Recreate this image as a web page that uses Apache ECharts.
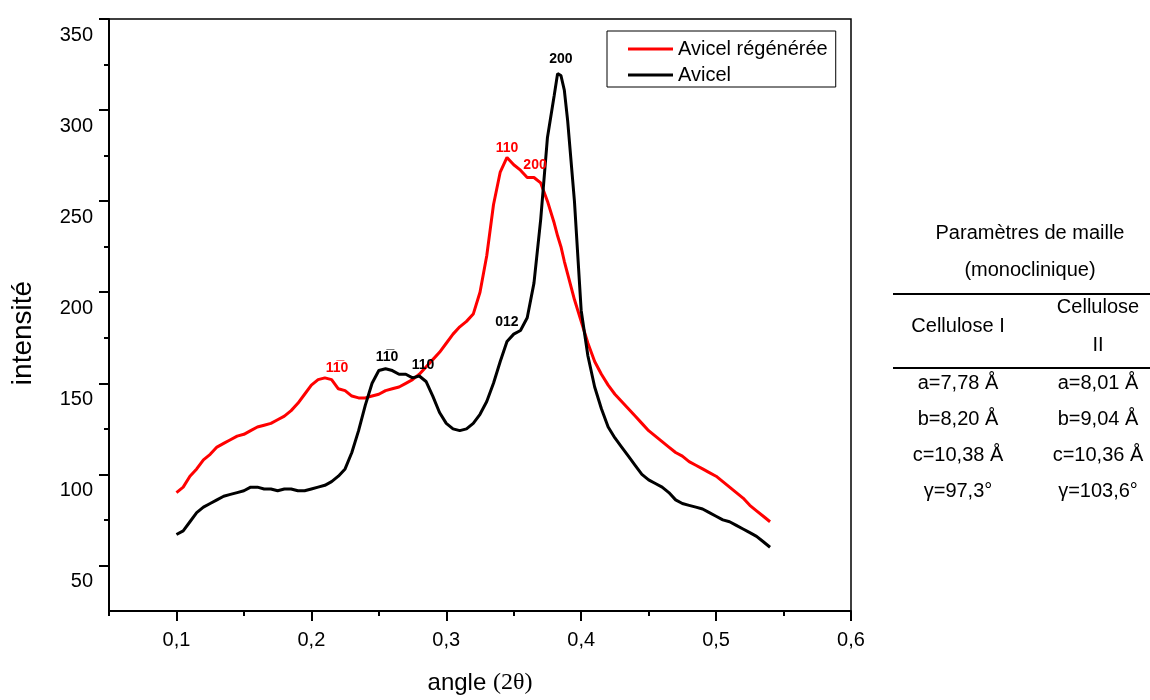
<!DOCTYPE html>
<html><head><meta charset="utf-8">
<script src="https://cdn.jsdelivr.net/npm/echarts@6/dist/echarts.min.js"></script>
<style>html,body{margin:0;padding:0;background:#fff}#c{width:1150px;height:700px}</style>
</head><body><div id="c"></div>
<script>
const angles = [0.100,0.105,0.110,0.115,0.120,0.125,0.130,0.135,0.140,0.145,
  0.150,0.155,0.160,0.165,0.170,0.175,0.180,0.185,0.190,0.195,
  0.200,0.205,0.210,0.215,0.220,0.225,0.230,0.235,0.240,0.245,
  0.250,0.255,0.260,0.265,0.270,0.275,0.280,0.285,0.290,0.295,
  0.300,0.305,0.310,0.315,0.320,0.325,0.330,0.335,0.340,0.345,
  0.350,0.355,0.360,0.365,0.370,0.375,0.380,0.3825,0.385,0.3875,
  0.390,0.395,0.400,0.405,0.410,0.415,0.420,0.425,0.430,0.435,
  0.440,0.445,0.450,0.455,0.460,0.465,0.470,0.475,0.480,0.485,
  0.490,0.495,0.500,0.505,0.510,0.515,0.520,0.525,0.530,0.535,0.540];
const avicelRegeneree = [90,93,99,103,108,111,115,117,119,121,
  122,124,126,127,128,130,132,135,139,144,
  149,152,153,152,147,146,143,142,142,143,
  144,146,147,148,150,152,155,159,163,167,
  172,177,181,184,188,200,220,248,266,274,
  270,267,263,263,260,250,238,231,225,217,
  210,196,184,172,162,155,149,144,140,136,
  132,128,124,121,118,115,112,110,107,105,
  103,101,99,96,93,90,87,83,80,77,74];
const avicel = [67,69,74,79,82,84,86,88,89,90,
  91,93,93,92,92,91,92,92,91,91,
  92,93,94,96,99,103,112,124,138,150,
  157,158,157,155,155,153,154,151,143,134,
  128,125,124,125,128,133,140,150,162,173,
  177,179,186,205,240,285,308,320,319,311,
  294,250,190,165,148,136,126,120,115,110,
  105,100,97,95,93,90,86,84,83,82,
  81,79,77,75,74,72,70,68,66,63,60];
const seriesNames = ['Avicel régénérée', 'Avicel'];
const majorXTicks = [0.1,0.2,0.3,0.4,0.5,0.6];
const minorXTicks = [0.05,0.15,0.25,0.35,0.45,0.55];
const majorYTicks = [50,100,150,200,250,300,350];
const minorYTicks = [75,125,175,225,275,325];
const redPeaks = [['11\u03050',0.219,158.4],['110',0.345,279.2],['200',0.3658,269.9]];
const blackPeaks = [['11\u03050',0.2561,164.5],['110',0.2828,160.1],['012',0.345,183.7],['200',0.385,328]];
const tableTitle = ['Paramètres de maille','(monoclinique)'];
const tableHeader = [['Cellulose I'],['Cellulose','II']];
const tableRows = [['a=7,78 Å','a=8,01 Å'],['b=8,20 Å','b=9,04 Å'],['c=10,38 Å','c=10,36 Å'],['γ=97,3°','γ=103,6°']];

const FONT = 'Liberation Sans';
const TFONT = '20px "Liberation Sans"';
const chart = echarts.init(document.getElementById('c'));
function peakMarks(list, color){
  return {
    symbol:'circle', symbolSize:1, itemStyle:{color:'rgba(0,0,0,0)'},
    label:{show:true, position:'inside', color:color, fontWeight:'bold', fontSize:14, fontFamily:'"Liberation Sans", "DejaVu Sans"',
      formatter:p=>p.name},
    data:list.map(d=>({name:d[0], coord:[d[1],d[2]]}))
  };
}
const xLab = v => v.toFixed(1).replace('.',',');
const graphics = [];
graphics.push({type:'text', rotation:Math.PI/2, x:23, y:333,
  style:{text:'intensité', font:'28px "Liberation Sans"', fill:'#000', textAlign:'center', textVerticalAlign:'middle'}});
tableTitle.forEach((t,i)=>graphics.push({type:'text', x:1030, y:233+i*37,
  style:{text:t, font:TFONT, fill:'#000', textAlign:'center', textVerticalAlign:'middle'}}));
graphics.push({type:'line', shape:{x1:893,y1:294,x2:1150,y2:294}, style:{stroke:'#000', lineWidth:2}});
graphics.push({type:'line', shape:{x1:893,y1:368,x2:1150,y2:368}, style:{stroke:'#000', lineWidth:2}});
graphics.push({type:'text', x:958, y:326, style:{text:tableHeader[0][0], font:TFONT, fill:'#000', textAlign:'center', textVerticalAlign:'middle'}});
tableHeader[1].forEach((t,i)=>graphics.push({type:'text', x:1098, y:307+i*38,
  style:{text:t, font:TFONT, fill:'#000', textAlign:'center', textVerticalAlign:'middle'}}));
tableRows.forEach((r,i)=>{
  [958,1098].forEach((cx,j)=>graphics.push({type:'text', x:cx, y:383+i*36,
    style:{text:r[j], font:TFONT, fill:'#000', textAlign:'center', textVerticalAlign:'middle'}}));
});

const option = {
  animation:false,
  textStyle:{fontFamily:FONT},
  grid:{left:109, right:299, top:19, bottom:89, show:true, borderColor:'#000', borderWidth:1.5, backgroundColor:'transparent'},
  legend:{data:seriesNames, orient:'vertical', left:607, top:31, itemWidth:45, itemHeight:3, itemGap:6,
    icon:'rect', padding:[8,8,2,21], borderColor:'#000', borderWidth:1, borderRadius:0,
    textStyle:{fontSize:20, color:'#000', lineHeight:20, fontFamily:FONT}},
  xAxis:[
    {type:'value', min:0.05, max:0.6, position:'bottom',
     name:'{a|angle }{b|(2θ)}', nameLocation:'middle', nameGap:60,
     nameTextStyle:{rich:{a:{fontSize:24, fontFamily:FONT, color:'#000'}, b:{fontSize:24, fontFamily:'Liberation Serif', color:'#000'}}},
     axisLine:{show:true, onZero:false, lineStyle:{color:'#000', width:2}},
     axisTick:{show:true, customValues:majorXTicks, length:10, lineStyle:{color:'#000', width:2}},
     axisLabel:{customValues:majorXTicks, formatter:xLab, fontSize:20, color:'#000', margin:19},
     splitLine:{show:false}},
    {type:'value', min:0.05, max:0.6, position:'bottom', gridIndex:0,
     axisLine:{show:false}, axisLabel:{show:false}, splitLine:{show:false},
     axisTick:{show:true, customValues:minorXTicks, length:5, lineStyle:{color:'#000', width:2}}}
  ],
  yAxis:[
    {type:'value', min:25, max:350, position:'left',
     axisLine:{show:true, onZero:false, lineStyle:{color:'#000', width:2}},
     axisTick:{show:true, customValues:majorYTicks, length:10, lineStyle:{color:'#000', width:2}},
     axisLabel:{customValues:majorYTicks, fontSize:20, color:'#000', margin:16, verticalAlign:'top', lineHeight:32},
     splitLine:{show:false}},
    {type:'value', min:25, max:350, position:'left', gridIndex:0,
     axisLine:{show:false}, axisLabel:{show:false}, splitLine:{show:false},
     axisTick:{show:true, customValues:minorYTicks, length:5, lineStyle:{color:'#000', width:2}}}
  ],
  series:[
    {name:seriesNames[0], type:'line', symbol:'none', xAxisIndex:0, yAxisIndex:0,
     lineStyle:{color:'#ff0000', width:3}, itemStyle:{color:'#ff0000'},
     data:angles.map((a,i)=>[a, avicelRegeneree[i]]), markPoint:peakMarks(redPeaks,'#ff0000'), z:3},
    {name:seriesNames[1], type:'line', symbol:'none', xAxisIndex:0, yAxisIndex:0,
     lineStyle:{color:'#000', width:3}, itemStyle:{color:'#000'},
     data:angles.map((a,i)=>[a, avicel[i]]), markPoint:peakMarks(blackPeaks,'#000'), z:4}
  ],
  graphic:graphics
};
chart.setOption(option);
</script></body></html>
